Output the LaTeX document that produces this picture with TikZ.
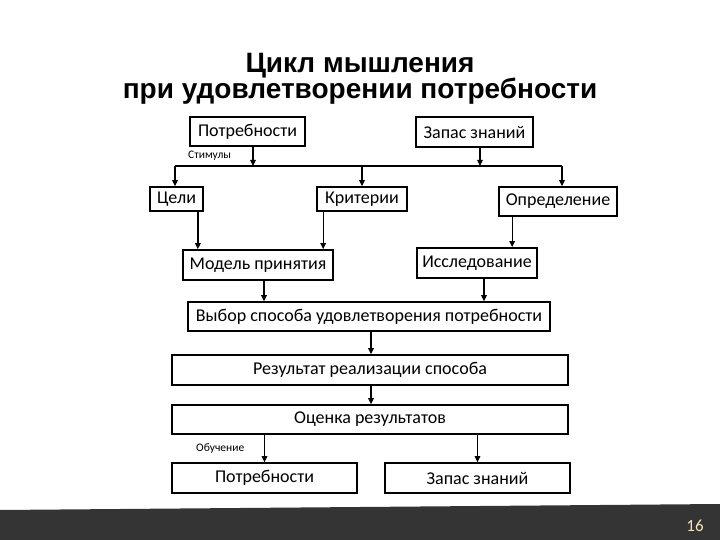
\documentclass[tikz,border=0pt]{standalone}
\usepackage{fontspec}
\setmainfont{Carlito}
\newfontfamily\ttlfont{Liberation Sans}
\usetikzlibrary{arrows.meta,positioning}
\definecolor{barcol}{HTML}{343434}
\definecolor{numcol}{HTML}{EFE3BE}

\begin{document}
\begin{tikzpicture}[x=1pt, y=-1pt,
    every node/.style={font=\fontsize{18}{20}\selectfont},
    bx/.style={rectangle, draw, line width=1.7pt, inner sep=0pt},
    e/.style={-{Triangle[length=6pt, width=5.5pt]}, line width=1.3pt},
    lbl/.style={font=\fontsize{11.5}{12}\selectfont, inner sep=0pt, anchor=west},
    ttl/.style={font=\ttlfont\bfseries\fontsize{28}{30}\selectfont, inner sep=0pt, anchor=base},
  ]
  \useasboundingbox (0,0) rectangle (720,540);
  % title
  \node[ttl] (t1) at (360, 73) {Цикл мышления};
  \node[ttl] (t2) at (360, 99) {при удовлетворении потребности};
  % boxes
  \node[bx, minimum width=115, minimum height=29] (pt1) at (247.5, 131.5) {Потребности};
  \node[bx, minimum width=117, minimum height=30] (zz1) at (474.5, 132) {Запас знаний};
  \node[bx, minimum width=53, minimum height=24] (cel) at (176.5, 199) {Цели};
  \node[bx, minimum width=90, minimum height=24] (krit) at (362, 199) {Критерии};
  \node[bx, minimum width=118, minimum height=29] (opr) at (558, 201.5) {Определение};
  \node[bx, minimum width=150, minimum height=30] (model) at (258, 265) {Модель принятия};
  \node[bx, minimum width=120, minimum height=30] (issl) at (477, 263) {Исследование};
  \node[bx, minimum width=362, minimum height=29] (vybor) at (369, 316.5) {Выбор способа удовлетворения потребности};
  \node[bx, minimum width=396, minimum height=30] (rez) at (370, 370) {Результат реализации способа};
  \node[bx, minimum width=396, minimum height=29] (ocen) at (370, 419.5) {Оценка результатов};
  \node[bx, minimum width=185, minimum height=30] (pt2) at (264.5, 478) {Потребности};
  \node[bx, minimum width=185, minimum height=30] (zz2) at (477.5, 478) {Запас знаний};
  \node[lbl] (stim) at (188, 156) {Стимулы};
  \node[lbl] (obuch) at (196, 449) {Обучение};
  % bus
  \coordinate (busL) at (175, 166);
  \coordinate (busR) at (562, 166);
  \coordinate (s1) at (253, 166);
  \coordinate (s2) at (480, 166);
  \draw[line width=1.3pt] (busL) -- (busR);
  \draw[e] (pt1.south -| s1) -- (s1);
  \draw[e] (zz1.south -| s2) -- (s2);
  \draw[e] (busL) -- (cel.north -| busL);
  \draw[e] (krit.north |- busL) -- (krit.north);
  \draw[e] (busR) -- (opr.north -| busR);
  % arrows
  \draw[e] ([xshift=-6]cel.south east) -- ([xshift=-6]cel.south east |- model.north);
  \draw[e] ([xshift=7]krit.south west) -- ([xshift=7]krit.south west |- model.north);
  \draw[e] ([xshift=14]opr.south west) -- ([xshift=14]opr.south west |- issl.north);
  \draw[e] ([xshift=6]model.south) -- ([xshift=6]model.south |- vybor.north);
  \draw[e] ([xshift=7]issl.south) -- ([xshift=7]issl.south |- vybor.north);
  \draw[e] ([xshift=2]vybor.south) -- ([xshift=2]vybor.south |- rez.north);
  \draw[e] ([xshift=1]rez.south) -- ([xshift=1]rez.south |- ocen.north);
  \draw[e] (ocen.south -| pt2.north) -- (pt2.north);
  \draw[e] (ocen.south -| zz2.north) -- (zz2.north);
  % footer
  \fill[barcol] (0,510) -- (720,504) -- (720,540) -- (0,540) -- cycle;
  \node[font=\fontsize{17}{18}\selectfont, text=numcol] (pg) at (695, 526) {16};
\end{tikzpicture}
\end{document}
